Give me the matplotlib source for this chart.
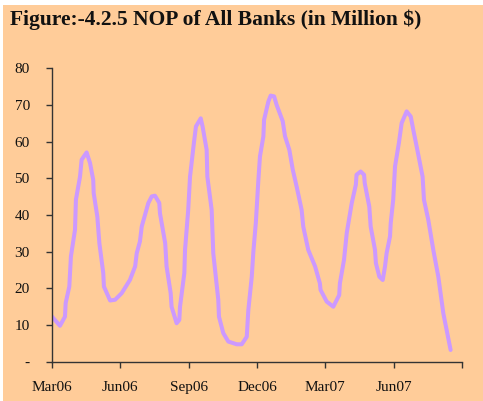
import matplotlib
matplotlib.use("Agg")
import matplotlib.pyplot as plt
from matplotlib.patches import Rectangle

# ---- data (months since Mar06, value in Million $) ----
months = [0.00, 0.35, 0.57, 0.60, 0.76, 0.83, 1.01, 1.05, 1.23, 1.30, 1.52, 1.67,
          1.81, 1.83, 1.99, 2.08, 2.25, 2.28, 2.55, 2.77, 3.06, 3.42, 3.65, 3.72,
          3.86, 3.94, 4.23, 4.38, 4.52, 4.71, 4.74, 4.97, 5.03, 5.21, 5.25, 5.47,
          5.59, 5.62, 5.81, 5.84, 5.98, 6.06, 6.23, 6.32, 6.53, 6.61, 6.79, 6.82,
          7.01, 7.08, 7.30, 7.33, 7.52, 7.74, 8.11, 8.33, 8.55, 8.62, 8.77, 8.84,
          8.95, 9.06, 9.13, 9.28, 9.31, 9.50, 9.60, 9.75, 9.86, 10.13, 10.23, 10.42,
          10.57, 10.74, 10.96, 11.03, 11.25, 11.55, 11.76, 11.79, 12.06, 12.35, 12.61,
          12.64, 12.82, 12.94, 13.16, 13.34, 13.37, 13.55, 13.70, 13.73, 13.93, 13.99,
          14.18, 14.22, 14.37, 14.52, 14.62, 14.69, 14.84, 14.87, 14.98, 15.06, 15.23,
          15.35, 15.57, 15.75, 15.86, 16.01, 16.27, 16.33, 16.52, 16.74, 16.96, 17.18,
          17.50]
nop = [12.3, 9.8, 12.3, 16.0, 20.5, 28.7, 36.0, 44.2, 50.5, 55.1, 57.1, 54.2,
       49.6, 46.0, 39.6, 32.3, 24.2, 20.5, 16.7, 16.9, 18.7, 22.3, 26.0, 29.6,
       32.8, 36.9, 43.3, 45.1, 45.3, 43.3, 40.5, 32.3, 26.0, 18.7, 15.0, 10.5,
       11.4, 15.0, 24.2, 30.5, 41.4, 50.5, 59.7, 64.2, 66.4, 64.2, 57.8, 50.5,
       41.4, 29.6, 16.9, 12.3, 7.8, 5.5, 4.75, 4.75, 6.8, 14.1, 23.2, 30.0,
       38.0, 49.5, 56.0, 61.5, 66.0, 71.0, 72.6, 72.4, 70.1, 65.6, 61.5, 57.8,
       52.4, 47.8, 41.4, 36.9, 30.5, 26.0, 21.4, 19.6, 16.4, 15.0, 18.2,
       21.4, 27.8, 35.1, 43.3, 48.3, 51.0, 51.9, 51.0, 48.7, 42.3, 36.9,
       30.5, 26.9, 23.2, 22.3, 26.0, 29.6, 34.2, 37.8, 44.2, 53.3, 59.7,
       65.1, 68.3, 66.9, 63.3, 58.7, 50.5, 44.2, 38.7, 30.5, 23.2, 13.2,
       3.2]

x_ticks = [0, 3, 6, 9, 12, 15, 18]
x_labels = ["Mar06", "Jun06", "Sep06", "Dec06", "Mar07", "Jun07", ""]
y_ticks = [0, 10, 20, 30, 40, 50, 60, 70, 80]
y_labels = ["-", "10", "20", "30", "40", "50", "60", "70", "80"]

title = "Figure:-4.2.5 NOP of All Banks (in Million $)"

bg = "#FFCC99"
line_color = "#CC99FF"
W, H = 483, 401

plt.rcParams["font.family"] = ["Liberation Serif", "DejaVu Serif"]

fig = plt.figure(figsize=(W / 100, H / 100), dpi=100)
fig.patch.set_facecolor("white")
fig.patches.append(Rectangle((3 / W, 0), 1 - 3 / W, (H - 5) / H,
                             transform=fig.transFigure, facecolor=bg,
                             edgecolor="none", zorder=-10))

left, right = 52 / W, 462 / W
bottom, top = (H - 361.7) / H, (H - 68.5) / H
ax = fig.add_axes([left, bottom, right - left, top - bottom])
ax.set_facecolor(bg)
ax.patch.set_alpha(0)

ax.plot(months, nop, color=line_color, linewidth=2.9, solid_capstyle="round",
        solid_joinstyle="round")

ax.set_xlim(0, 18)
ax.set_ylim(0, 80)
ax.set_xticks(x_ticks)
ax.set_xticklabels(x_labels)
ax.set_yticks(y_ticks)
ax.set_yticklabels(y_labels)

for s in ["top", "right"]:
    ax.spines[s].set_visible(False)
for s in ["left", "bottom"]:
    ax.spines[s].set_color("#333333")
    ax.spines[s].set_linewidth(1.0)

ax.tick_params(axis="y", direction="out", length=4, width=1, color="#333333",
               labelsize=11, pad=12, labelcolor="#111111")
ax.tick_params(axis="x", direction="out", length=4, width=1, color="#333333",
               labelsize=11, pad=10, labelcolor="#111111")

fig.text(10 / W, 1 - 20 / H, title, fontsize=15.5, fontweight="bold",
         ha="left", va="center", color="#111111")

fig.savefig("out.png", dpi=100, facecolor=fig.get_facecolor())
